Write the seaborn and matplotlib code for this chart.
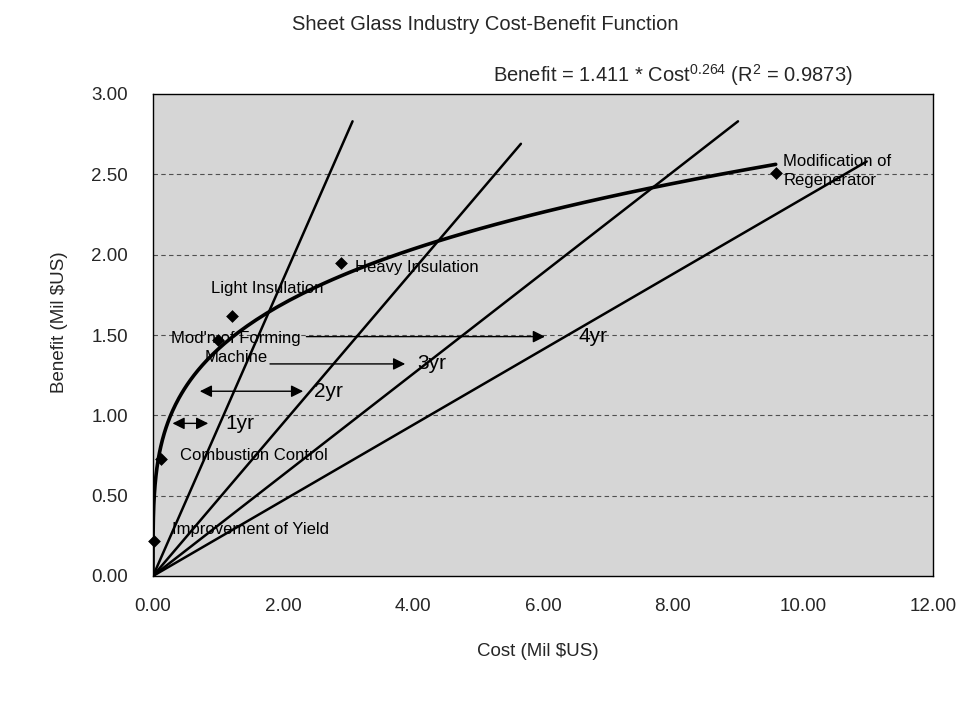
import numpy as np
import pandas as pd
import matplotlib
matplotlib.use("Agg")
import matplotlib.pyplot as plt
import seaborn as sns

# measure points (cost, benefit) in million US$
measures = ["Improvement of Yield", "Combustion Control", "Light Insulation",
            "Mod'n of Forming\nMachine", "Heavy Insulation",
            "Modification of\nRegenerator"]
cost = [0.02, 0.13, 1.21, 1.00, 2.90, 9.58]
benefit = [0.22, 0.73, 1.62, 1.47, 1.95, 2.51]

# label anchor positions (data coords) and alignment
label_x = [0.29, 0.42, 0.90, 1.28, 3.11, 9.70]
label_y = [0.29, 0.75, 1.79, 1.42, 1.92, 2.52]
label_ha = ["left", "left", "left", "center", "left", "left"]

# power trendline as printed on the chart
trend_a = 1.411
trend_b = 0.264
trend_r2 = 0.9873

# payback period lines from the origin, end points
payback_end_cost = [3.07, 5.66, 9.00, 10.98]
payback_end_benefit = [2.83, 2.69, 2.83, 2.58]

# horizontal payback arrows
arrow_labels = ["1yr", "2yr", "3yr", "4yr"]
arrow_y = [0.95, 1.15, 1.32, 1.49]
arrow_x0 = [0.30, 0.72, 1.80, 2.36]
arrow_x1 = [0.85, 2.31, 3.88, 6.03]
arrow_label_x = [1.12, 2.47, 4.06, 6.54]
arrow_style = ["<|-|>", "<|-|>", "-|>", "-|>"]

x_ticks = [0, 2, 4, 6, 8, 10, 12]
y_ticks = [0.0, 0.5, 1.0, 1.5, 2.0, 2.5, 3.0]

sns.set_theme(style="white")
plt.rcParams["font.family"] = ["Liberation Sans", "DejaVu Sans"]
plt.rcParams["mathtext.fontset"] = "custom"
plt.rcParams["mathtext.rm"] = "Liberation Sans"
plt.rcParams["mathtext.it"] = "Liberation Sans"

fig = plt.figure(figsize=(9.7, 7.04), dpi=100)
fig.patch.set_facecolor("white")
ax = fig.add_axes([153 / 970, 1 - 576 / 704, 780 / 970, 482 / 704])
ax.set_facecolor("#d6d6d6")

# dashed horizontal gridlines
for yv in y_ticks[1:-1]:
    ax.axhline(yv, color="#505050", lw=0.8, ls=(0, (4, 3)), zorder=1)

# payback lines
for xe, ye in zip(payback_end_cost, payback_end_benefit):
    seg = pd.DataFrame({"cost": [0.0, xe], "benefit": [0.0, ye]})
    sns.lineplot(data=seg, x="cost", y="benefit", ax=ax, color="black",
                 lw=1.8, zorder=3)

# trendline over the data range
c_fit = np.geomspace(1e-7, max(cost), 400)
trend = pd.DataFrame({"cost": c_fit, "benefit": trend_a * c_fit ** trend_b})
sns.lineplot(data=trend, x="cost", y="benefit", ax=ax, color="black",
             lw=2.6, zorder=4, sort=False)

pts = pd.DataFrame({"cost": cost, "benefit": benefit, "measure": measures})
sns.scatterplot(data=pts, x="cost", y="benefit", ax=ax, marker="D",
                s=36, color="black", edgecolor="black", zorder=5,
                clip_on=False)

for name, lx, ly, ha in zip(measures, label_x, label_y, label_ha):
    ax.text(lx, ly, name, ha=ha, va="center", fontsize=12, color="black",
            zorder=6, linespacing=1.3)

for lab, yv, x0, x1, lx, st in zip(arrow_labels, arrow_y, arrow_x0, arrow_x1,
                                   arrow_label_x, arrow_style):
    ax.annotate("", xy=(x1, yv), xytext=(x0, yv),
                arrowprops=dict(arrowstyle=st + ",head_length=0.6,head_width=0.3",
                                color="black", lw=1.0, shrinkA=0, shrinkB=0),
                zorder=6)
    ax.text(lx, yv, lab, ha="left", va="center", fontsize=15, color="black",
            zorder=6)

ax.set_xlim(0, 12)
ax.set_ylim(0, 3)
ax.set_xticks(x_ticks)
ax.set_yticks(y_ticks)
ax.set_xticklabels([f"{v:.2f}" for v in x_ticks])
ax.set_yticklabels([f"{v:.2f}" for v in y_ticks])
ax.tick_params(axis="x", length=0, pad=16, labelsize=13.5)
ax.tick_params(axis="y", length=0, pad=18, labelsize=13.5)
ax.set_xlabel("")
ax.set_ylabel("")
for sp in ax.spines.values():
    sp.set_color("black")
    sp.set_linewidth(1.0)
ax.grid(False)

fig.text(0.5, 1 - 25 / 704, "Sheet Glass Industry Cost-Benefit Function",
         ha="center", va="center", fontsize=14.5)
fig.text(493 / 970, 1 - 75 / 704,
         r"Benefit = 1.411 * Cost$^{0.264}$ (R$^{2}$ = 0.9873)",
         ha="left", va="center", fontsize=14.5)
fig.text(538 / 970, 1 - 652 / 704, "Cost (Mil $US)", ha="center",
         va="center", fontsize=13.5)
fig.text(60 / 970, 1 - 322 / 704, "Benefit (Mil $US)", ha="center",
         va="center", rotation=90, fontsize=13.5)

fig.savefig("out.png", dpi=100)
